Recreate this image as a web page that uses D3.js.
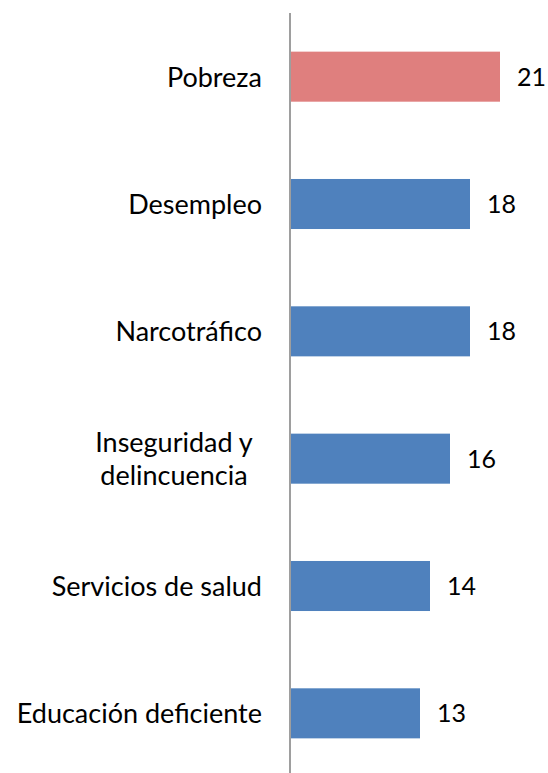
<!DOCTYPE html>
<html>
<head>
<meta charset="utf-8">
<script src="https://d3js.org/d3.v7.min.js"></script>
<style>
  body { margin: 0; background: #fff; }
  text { font-family: Lato, "Open Sans", sans-serif; fill: #000; }
</style>
</head>
<body>
<script>
// categories top to bottom
var categories = ["Pobreza", "Desempleo", "Narcotráfico", "Inseguridad y\ndelincuencia", "Servicios de salud", "Educación deficiente"];
var values = [21, 18, 18, 16, 14, 13];
var highlight = ["Pobreza"];

var width = 548, height = 773;

var svg = d3.select("body").append("svg")
    .attr("width", width).attr("height", height);

var x = d3.scaleLinear().domain([0, 21]).range([290, 500]);
var y = d3.scaleBand().domain(categories).range([13, 777])
    .paddingInner(0.607).paddingOuter(0.3035);

var data = categories.map((c, i) => ({cat: c, val: values[i]}));

svg.selectAll("rect.bar").data(data).enter().append("rect")
    .attr("class", "bar")
    .attr("x", x(0) + 1)
    .attr("y", d => y(d.cat))
    .attr("width", d => x(d.val) - x(0) - 1)
    .attr("height", y.bandwidth())
    .attr("fill", d => highlight.includes(d.cat) ? "#DF7F7E" : "#4F81BD");

// axis line
svg.append("line")
    .attr("x1", x(0)).attr("x2", x(0))
    .attr("y1", 13).attr("y2", height)
    .attr("stroke", "#868686").attr("stroke-width", 1.6);

// category labels
svg.selectAll("text.cat").data(data).enter().append("text")
    .attr("class", "cat")
    .style("font-size", "27px")
    .each(function(d) {
      var lines = d.cat.split("\n");
      var t = d3.select(this);
      var cy = y(d.cat) + y.bandwidth() / 2;
      if (lines.length == 1) {
        t.attr("x", 262).attr("y", cy + 10).attr("text-anchor", "end").text(lines[0]);
      } else {
        t.attr("text-anchor", "middle");
        lines.forEach((l, i) => {
          t.append("tspan").attr("x", 174)
            .attr("y", cy - 7 + i * 33)
            .text(l);
        });
      }
    });

// value labels
svg.selectAll("text.val").data(data).enter().append("text")
    .attr("class", "val")
    .style("font-size", "25px")
    .attr("x", d => x(d.val) + 17)
    .attr("y", d => y(d.cat) + y.bandwidth() / 2 + 9)
    .text(d => d.val);
</script>
</body>
</html>
